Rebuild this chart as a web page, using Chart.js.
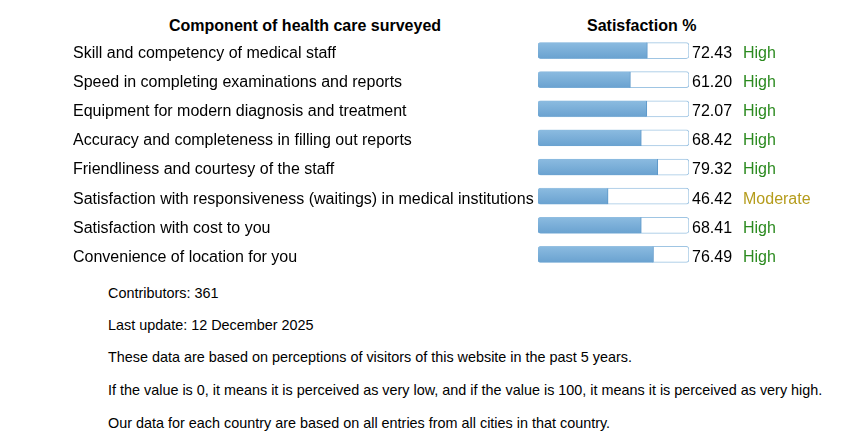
<!DOCTYPE html>
<html>
<head>
<meta charset="utf-8">
<script src="https://cdn.jsdelivr.net/npm/chart.js@4.4.1/dist/chart.umd.min.js"></script>
<style>
  body { margin: 0; background: #fff; font-family: "Liberation Sans", Arial, sans-serif; color: #000; }
  #wrap { position: relative; width: 851px; height: 442px; }
  .hdr { position: absolute; top: 17px; font-weight: bold; font-size: 16px; }
  #chartBox { position: absolute; left: 0; top: 36px; width: 851px; height: 233px; }
  .note { position: absolute; left: 108px; font-size: 14.4px; }
</style>
</head>
<body>
<div id="wrap">
  <div class="hdr" style="left:169px;">Component of health care surveyed</div>
  <div class="hdr" style="left:587px;">Satisfaction %</div>
  <div id="chartBox"><canvas id="barChart"></canvas></div>
  <div class="note" style="top:285px;">Contributors: 361</div>
  <div class="note" style="top:317px;">Last update: 12 December 2025</div>
  <div class="note" style="top:349px;">These data are based on perceptions of visitors of this website in the past 5 years.</div>
  <div class="note" style="top:382px;">If the value is 0, it means it is perceived as very low, and if the value is 100, it means it is perceived as very high.</div>
  <div class="note" style="top:415px;">Our data for each country are based on all entries from all cities in that country.</div>
</div>
<script>
const components = [
    "Skill and competency of medical staff",
    "Speed in completing examinations and reports",
    "Equipment for modern diagnosis and treatment",
    "Accuracy and completeness in filling out reports",
    "Friendliness and courtesy of the staff",
    "Satisfaction with responsiveness (waitings) in medical institutions",
    "Satisfaction with cost to you",
    "Convenience of location for you"
];
const satisfaction = [72.43, 61.20, 72.07, 68.42, 79.32, 46.42, 68.41, 76.49];
const ratings = ["High", "High", "High", "High", "High", "Moderate", "High", "High"];
const scaleMax = [100, 100, 100, 100, 100, 100, 100, 100];

const ratingColors = { High: "#2b8a1f", Moderate: "#b59c1c" };

// values + rating text to the right of each bar
const valueLabels = {
    id: "valueLabels",
    afterDatasetsDraw(chart) {
        const { ctx, chartArea, scales } = chart;
        ctx.save();
        ctx.font = "16px 'Liberation Sans', Arial, sans-serif";
        ctx.textBaseline = "middle";
        satisfaction.forEach((v, i) => {
            const y = scales.y.getPixelForValue(i) + 3;
            ctx.fillStyle = "#000";
            ctx.fillText(v.toFixed(2), chartArea.right + 3, y);
            ctx.fillStyle = ratingColors[ratings[i]];
            ctx.fillText(ratings[i], chartArea.right + 54, y);
        });
        ctx.restore();
    }
};

function fillGradient(context) {
    const chart = context.chart;
    const yScale = chart.scales && chart.scales.y;
    if (!chart.chartArea || !yScale) return "#7fb2da";
    const y = yScale.getPixelForValue(context.dataIndex);
    if (!Number.isFinite(y)) return "#7fb2da";
    const g = chart.ctx.createLinearGradient(0, y - 8, 0, y + 8);
    g.addColorStop(0, "#8bbbe0");
    g.addColorStop(1, "#6aa2d0");
    return g;
}

const ctx = document.getElementById("barChart").getContext("2d");

new Chart(ctx, {
    type: "bar",
    data: {
        labels: components,
        datasets: [
            {
                label: "Satisfaction %",
                data: satisfaction,
                backgroundColor: fillGradient,
                borderColor: "#5b97c9",
                borderWidth: { right: 1, left: 0, top: 0, bottom: 0 },
                borderSkipped: false,
                borderRadius: { topLeft: 2, bottomLeft: 2, topRight: 0, bottomRight: 0 },
                barThickness: 16,
                grouped: false,
                order: 0
            },
            {
                label: "track",
                data: scaleMax,
                backgroundColor: "#ffffff",
                borderColor: "#9fc5e3",
                borderWidth: 1,
                borderSkipped: false,
                borderRadius: 3,
                barThickness: 16,
                grouped: false,
                order: 1
            }
        ]
    },
    options: {
        indexAxis: "y",
        responsive: true,
        maintainAspectRatio: false,
        animation: false,
        layout: { padding: { left: 73, right: 162, top: 0, bottom: 0 } },
        plugins: {
            legend: { display: false },
            tooltip: { enabled: false }
        },
        scales: {
            x: {
                display: false,
                min: 0,
                max: 100
            },
            y: {
                grid: { display: false },
                border: { display: false },
                ticks: {
                    crossAlign: "far",
                    padding: 0,
                    labelOffset: 3,
                    color: "#000",
                    font: { size: 16, family: "'Liberation Sans', Arial, sans-serif" }
                },
                afterFit(scale) {
                    scale.width = 465;
                    scale.paddingTop = 0;
                    scale.paddingBottom = 0;
                }
            }
        }
    },
    plugins: [valueLabels]
});
</script>
</body>
</html>
